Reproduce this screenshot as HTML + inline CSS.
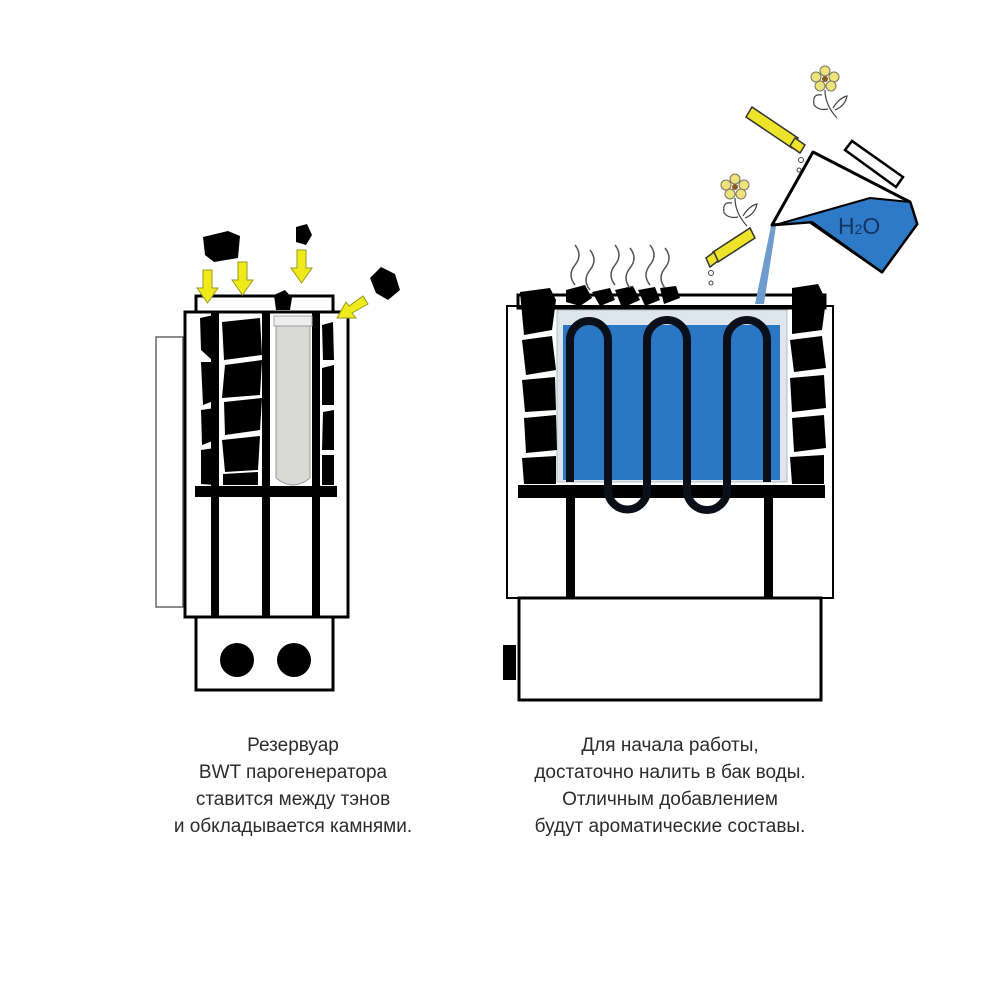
<!DOCTYPE html>
<html><head><meta charset="utf-8"><style>
html,body{margin:0;padding:0;background:#fff;}
svg{display:block;}
text{font-family:"Liberation Sans",sans-serif;fill:#2b2b2b;}
</style></head><body>
<svg width="1000" height="1000" viewBox="0 0 1000 1000" xmlns="http://www.w3.org/2000/svg">
<rect width="1000" height="1000" fill="#fff"/>
<!-- LEFT HEATER -->
<g fill="none" stroke="#000">
<rect x="156" y="337" width="27" height="270" stroke="#666" stroke-width="1.5"/>
<rect x="196" y="296" width="137" height="16" stroke-width="3"/>
<rect x="185" y="312" width="163" height="305" stroke-width="3"/>
<rect x="196" y="617" width="137" height="73" stroke-width="3"/>
</g>
<circle cx="237" cy="660" r="17" fill="#000"/>
<circle cx="294" cy="660" r="17" fill="#000"/>
<rect x="195" y="486" width="142" height="11" fill="#000"/>
<rect x="211" y="312" width="8" height="305" fill="#000"/>
<rect x="262" y="312" width="8" height="305" fill="#000"/>
<rect x="312" y="312" width="8" height="305" fill="#000"/>
<!-- left stones -->
<g fill="#000">
<polygon points="200,318 214,315 217,340 212,360 201,350"/>
<polygon points="201,362 214,362 216,400 203,405"/>
<polygon points="201,410 215,408 215,440 202,445"/>
<polygon points="201,450 215,448 215,485 201,484"/>
<polygon points="222,322 260,318 262,355 224,360"/>
<polygon points="225,365 262,360 260,395 222,398"/>
<polygon points="224,402 262,398 260,430 225,435"/>
<polygon points="222,440 260,436 258,470 225,472"/>
<polygon points="223,474 258,472 258,485 223,485"/>
<polygon points="322,325 333,322 334,360 323,360"/>
<polygon points="322,368 334,365 334,405 322,405"/>
<polygon points="323,412 334,410 334,450 322,450"/>
<polygon points="322,455 334,455 334,485 322,485"/>
<polygon points="203,237 228,231 240,236 238,258 214,262 205,255"/>
<polygon points="296,227 307,224 312,235 306,245 296,242"/>
<polygon points="274,295 285,290 292,298 290,310 276,310"/>
<polygon points="370,278 381,267 395,274 400,290 388,300 376,293"/>
</g>
<rect x="274" y="316" width="38" height="10" fill="#eee" stroke="#aaa"/>
<path d="M276,326 L310,326 L310,478 Q293,492 276,478 Z" fill="#d9d9d6" stroke="#999" stroke-width="1"/>
<!-- yellow arrows -->
<g fill="#f0ea1a" stroke="#999a20" stroke-width="1">
<polygon points="203,270 212,270 212,288 218,288 207.5,303 197,288 203,288"/>
<polygon points="238,262 247,262 247,280 253,280 242.5,295 232,280 238,280"/>
<polygon points="297,250 306,250 306,268 312,268 301.5,283 291,268 297,268"/>
<polygon points="363,296 368,304 352,313 356,318 337,318 346,302 349,306"/>
</g>
<!-- RIGHT HEATER -->
<g fill="none" stroke="#000">
<rect x="507" y="306" width="326" height="292" stroke-width="2"/>
<rect x="518" y="295" width="307" height="13" stroke-width="3"/>
<rect x="519" y="598" width="302" height="102" stroke-width="3"/>
</g>
<rect x="503" y="645" width="13" height="35" fill="#000"/>
<rect x="518" y="485" width="307" height="13" fill="#000"/>
<rect x="566" y="498" width="9" height="100" fill="#000"/>
<rect x="764" y="498" width="9" height="100" fill="#000"/>
<rect x="557" y="310" width="230" height="172" fill="#dde6ee" stroke="#bbb"/>
<rect x="563" y="325" width="217" height="155" fill="#2a78c4"/>
<g fill="none" stroke="#0a0f1a" stroke-width="8">
<path d="M570,482 V340 A19,19 0 0 1 608,340 V490 A19.5,19.5 0 0 0 647,490 V340 A20,20 0 0 1 687,340 V490 A20,20 0 0 0 727,490 V340 A20,20 0 0 1 767,340 V482"/>
</g>
<g fill="#000">
<polygon points="520,292 550,288 556,300 552,330 524,335"/>
<polygon points="522,340 552,336 556,370 526,375"/>
<polygon points="522,380 555,377 556,410 525,412"/>
<polygon points="524,418 556,415 557,450 526,453"/>
<polygon points="522,458 556,456 556,484 524,484"/>
<polygon points="792,288 818,284 826,300 822,330 792,334"/>
<polygon points="790,340 822,336 826,368 794,372"/>
<polygon points="790,378 824,375 826,408 792,412"/>
<polygon points="792,418 824,415 826,448 794,452"/>
<polygon points="790,457 824,455 824,484 792,484"/>
<polygon points="566,290 585,285 592,298 580,306 566,302"/>
<polygon points="592,292 610,288 615,300 600,306"/>
<polygon points="615,290 633,286 640,300 622,308"/>
<polygon points="638,290 655,287 660,300 645,306"/>
<polygon points="660,288 676,286 680,298 664,304"/>
</g>
<g fill="none" stroke="#555" stroke-width="1.5">
<path d="M575,285 q-8,-10 0,-20 q8,-10 0,-20"/>
<path d="M590,290 q-8,-10 0,-20 q8,-10 0,-20"/>
<path d="M615,285 q-8,-10 0,-20 q8,-10 0,-20"/>
<path d="M630,288 q-8,-10 0,-20 q8,-10 0,-20"/>
<path d="M650,285 q-8,-10 0,-20 q8,-10 0,-20"/>
<path d="M665,288 q-8,-10 0,-20 q8,-10 0,-20"/>
</g>
<!-- water stream -->
<polygon points="771,226 776,226 764,304 755,304" fill="#6f9ccc"/>
<!-- kettle -->
<polygon points="813,152 910,202 917,224 882,272 810,222 772,225" fill="#fff" stroke="#000" stroke-width="3" stroke-linejoin="round"/>
<polygon points="775,225 870,198 910,202 917,224 882,272 812,222" fill="#2f7ac6" stroke="#000" stroke-width="2" stroke-linejoin="round"/>
<polygon points="845,150 852,141 903,177 896,187" fill="#fff" stroke="#000" stroke-width="2.5"/>
<text x="838" y="234" font-size="23" style="fill:#14335e">H<tspan font-size="14">2</tspan>O</text>
<!-- bottles -->
<g fill="#ece32a" stroke="#333" stroke-width="1.5">
<polygon points="752,107 798,138 792,148 746,117"/>
<polygon points="795,138 805,145 800,153 790,146"/>
<polygon points="750,228 755,238 718,262 713,252"/>
<polygon points="714,252 718,261 710,267 706,258"/>
</g>
<g fill="none" stroke="#444" stroke-width="1">
<circle cx="801" cy="160" r="2.5"/><circle cx="799" cy="170" r="2"/>
<circle cx="711" cy="273" r="2.5"/><circle cx="711" cy="283" r="2"/>
</g>
<!-- flowers -->
<g>
<g fill="#efe27a" stroke="#776" stroke-width="1">
<circle cx="825" cy="71" r="5"/><circle cx="834" cy="77" r="5"/><circle cx="831" cy="86" r="5"/><circle cx="820" cy="86" r="5"/><circle cx="816" cy="77" r="5"/>
<circle cx="735" cy="179" r="5"/><circle cx="744" cy="185" r="5"/><circle cx="741" cy="194" r="5"/><circle cx="730" cy="194" r="5"/><circle cx="726" cy="185" r="5"/>
</g>
<circle cx="825" cy="79" r="3" fill="#8a5a20"/><circle cx="735" cy="187" r="3" fill="#8a5a20"/>
<g fill="none" stroke="#444" stroke-width="1.2">
<path d="M825,90 q0,15 12,28"/><path d="M822,95 q-10,-2 -8,10 q5,6 14,4"/><path d="M833,108 q6,-10 14,-12 q-2,10 -12,14"/>
<path d="M735,198 q0,15 12,28"/><path d="M732,203 q-10,-2 -8,10 q5,6 14,4"/><path d="M743,216 q6,-10 14,-12 q-2,10 -12,14"/>
</g>
</g>
<!-- captions -->
<g font-size="19" text-anchor="middle">
<text x="293" y="751">Резервуар</text>
<text x="293" y="778">BWT парогенератора</text>
<text x="293" y="805">ставится между тэнов</text>
<text x="293" y="832">и обкладывается камнями.</text>
<text x="670" y="751">Для начала работы,</text>
<text x="670" y="778">достаточно налить в бак воды.</text>
<text x="670" y="805">Отличным добавлением</text>
<text x="670" y="832">будут ароматические составы.</text>
</g>
</svg>
</body></html>
